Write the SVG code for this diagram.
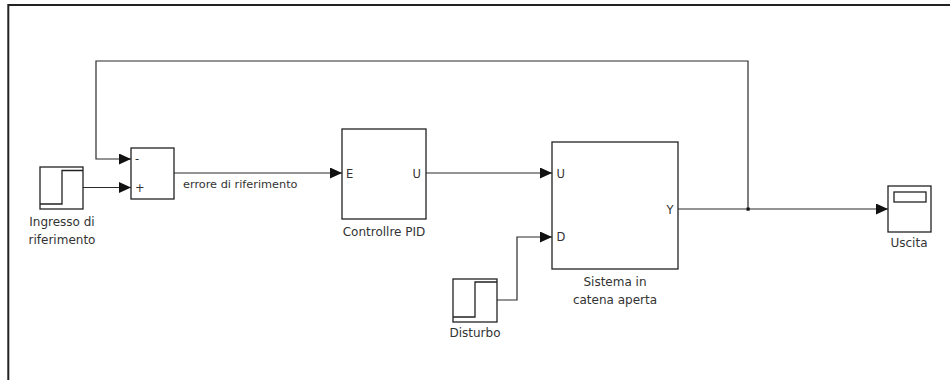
<svg xmlns="http://www.w3.org/2000/svg" width="950" height="380" viewBox="0 0 950 380">
<defs>
<marker id="arr" markerWidth="12" markerHeight="11" refX="12" refY="5.5" orient="auto" markerUnits="userSpaceOnUse">
<path d="M0,0 L12,5.5 L0,11 Z" fill="#111"/>
</marker>
<style>
.blk{fill:#fff;stroke:#222;stroke-width:1.3}
.ic{fill:none;stroke:#222;stroke-width:1.3}
.wire{fill:none;stroke:#2a2a2a;stroke-width:1.2}
.arw{marker-end:url(#arr)}
text{font-family:"DejaVu Sans","Liberation Sans",sans-serif;font-size:12px;fill:#333}
.port{font-size:11.5px}
.mid{text-anchor:middle}
.end{text-anchor:end}
</style>
</defs>
<rect width="950" height="380" fill="#fff"/>
<path d="M8.3,380 V5 H950" fill="none" stroke="#222" stroke-width="2"/>

<g id="connectors">
<path class="wire arw" d="M83,187.5 H131"/>
<path class="wire arw" d="M748,209 V61 H96 V159 H131"/>
<path class="wire arw" d="M174,173 H342"/>
<path class="wire arw" d="M426,173 H552"/>
<path class="wire arw" d="M678,209 H888"/>
<path class="wire arw" d="M497,300 H517 V237 H552"/>
<rect x="746.5" y="207.5" width="3.2" height="3.2" fill="#111"/>
<text x="183" y="188" style="font-size:11.3px">errore di riferimento</text>
</g>

<g id="ingresso">
<rect class="blk" x="40" y="167" width="43" height="42"/>
<path class="ic" d="M40,204 H62 V170.5 H83"/>
<text class="mid" x="62" y="226">Ingresso di</text>
<text class="mid" x="62" y="244">riferimento</text>
</g>

<g id="sum">
<rect class="blk" x="131" y="148" width="43" height="51"/>
<text class="port" x="135" y="163">-</text>
<text class="port" x="135" y="191.5">+</text>
</g>

<g id="pid">
<rect class="blk" x="342" y="129" width="84" height="90"/>
<text class="port" x="346" y="177.5">E</text>
<text class="port end" x="421" y="177.5">U</text>
<text class="mid" x="384" y="236">Controllre PID</text>
</g>

<g id="sistema">
<rect class="blk" x="552" y="142" width="126" height="127"/>
<text class="port" x="556.5" y="177.5">U</text>
<text class="port" x="556.5" y="241">D</text>
<text class="port end" x="673.5" y="213.5">Y</text>
<text class="mid" x="615" y="286">Sistema in</text>
<text class="mid" x="615" y="304">catena aperta</text>
</g>

<g id="disturbo">
<rect class="blk" x="453" y="279" width="44" height="43"/>
<path class="ic" d="M453,317 H475 V282 H497"/>
<text class="mid" x="475" y="337">Disturbo</text>
</g>

<g id="uscita">
<rect class="blk" x="888" y="186" width="43" height="46"/>
<rect class="ic" x="894" y="192" width="32" height="10"/>
<text class="mid" x="909" y="247">Uscita</text>
</g>
</svg>
